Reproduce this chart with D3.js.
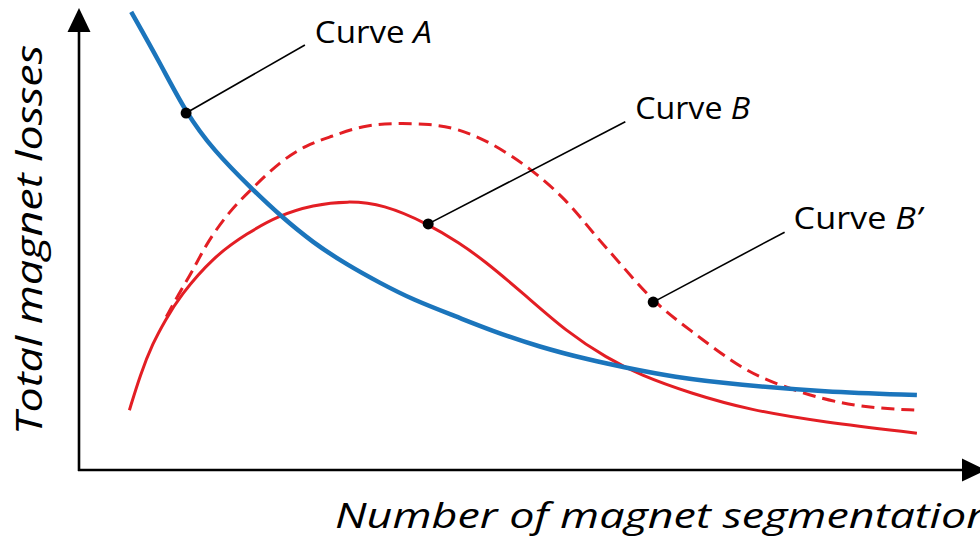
<!DOCTYPE html>
<html><head><meta charset="utf-8">
<script src="https://cdn.jsdelivr.net/npm/d3@7"></script>
<style>html,body{margin:0;padding:0;background:#fff;}svg{display:block;}</style>
</head><body>
<script>
// Data (normalized units: x 0..100 along axis, y 0..100 up the axis)
const curveAX = [5.8, 9.0, 11.9, 14.9, 19.3, 22.3, 26.0, 29.8, 33.4, 37.1, 42.0, 45.7, 51.2, 56.8, 60.4, 66.0, 73.4, 82.7, 93.1];
const curveAY = [99.6, 88.5, 77.6, 69.6, 60.9, 55.4, 49.4, 44.6, 40.7, 37.0, 33.3, 30.4, 26.7, 23.9, 22.4, 20.2, 18.5, 17.0, 16.3];

const curveBX = [5.6, 6.8, 8.2, 9.6, 11.2, 14.9, 18.7, 22.3, 26.0, 29.8, 33.8, 38.8, 42.3, 44.9, 49.3, 54.2, 58.7, 62.3, 67.9, 74.6, 82.7, 93.1];
const curveBY = [13.0, 20.7, 27.6, 32.6, 37.8, 46.3, 51.5, 55.4, 57.6, 58.5, 57.8, 53.5, 49.3, 45.7, 38.5, 30.0, 24.3, 20.7, 16.7, 13.0, 10.4, 8.0];

const curveBpX = [9.7, 11.2, 12.7, 14.2, 16.8, 19.3, 22.3, 25.3, 27.9, 31.6, 35.3, 39.0, 42.0, 45.7, 50.1, 54.2, 57.1, 60.2, 63.8, 67.9, 72.7, 76.1, 82.7, 87.9, 93.1];
const curveBpY = [33.3, 38.7, 43.5, 49.4, 56.5, 61.3, 67.0, 70.7, 72.4, 75.0, 75.4, 75.2, 74.3, 71.3, 65.7, 58.7, 51.5, 44.8, 36.5, 30.4, 23.3, 19.6, 15.2, 13.5, 13.0];

// annotations: label, dot (on curve), leader end, text position
const labelNames = ["Curve ", "Curve ", "Curve "];
const labelItalic = ["A", "B", "B\u2019"];
const dotX = [11.9, 38.8, 63.8];
const dotY = [77.6, 53.5, 36.5];
const leadX = [25.1, 60.7, 78.4];
const leadY = [92.4, 75.7, 51.7];
const textX = [26.2, 61.8, 79.4];
const textY = [92.8, 76.3, 52.4];

const xTitle = "Number of magnet segmentation";
const yTitle = "Total magnet losses";

const W = 980, H = 544;
const x = d3.scaleLinear().domain([0, 100]).range([79, 979]);
const y = d3.scaleLinear().domain([0, 100]).range([470, 10]);

const svg = d3.select("body").append("svg").attr("width", W).attr("height", H);

const font = "'Open Sans', 'Noto Sans', sans-serif";

// axes
const x0 = x(0), y0 = y(0);
svg.append("line").attr("x1", x0).attr("y1", y0 + 1).attr("x2", x0).attr("y2", 30)
  .attr("stroke", "#000").attr("stroke-width", 2.6);
svg.append("line").attr("x1", x0 - 1).attr("y1", y0).attr("x2", 964).attr("y2", y0)
  .attr("stroke", "#000").attr("stroke-width", 2.6);
svg.append("path").attr("d", `M${x0},8 L${x0 - 11.5},32 L${x0 + 11.5},32 Z`).attr("fill", "#000");
svg.append("path").attr("d", `M986,${y0} L962,${y0 - 11.5} L962,${y0 + 11.5} Z`).attr("fill", "#000");

const line = d3.line().x(d => x(d[0])).y(d => y(d[1])).curve(d3.curveBasis);

const A = curveAX.map((v, i) => [v, curveAY[i]]);
const B = curveBX.map((v, i) => [v, curveBY[i]]);
const Bp = curveBpX.map((v, i) => [v, curveBpY[i]]);

svg.append("path").attr("d", line(Bp)).attr("fill", "none").attr("stroke", "#e31e24")
  .attr("stroke-width", 3).attr("stroke-dasharray", "13,7");
svg.append("path").attr("d", line(B)).attr("fill", "none").attr("stroke", "#e31e24")
  .attr("stroke-width", 3);
svg.append("path").attr("d", line(A)).attr("fill", "none").attr("stroke", "#1b75bc")
  .attr("stroke-width", 4.5);

// annotations
const labelLen = [117, 115, 128];
labelNames.forEach((n, i) => {
  svg.append("line").attr("x1", x(dotX[i])).attr("y1", y(dotY[i]))
    .attr("x2", x(leadX[i])).attr("y2", y(leadY[i]))
    .attr("stroke", "#000").attr("stroke-width", 1.6);
  svg.append("circle").attr("cx", x(dotX[i])).attr("cy", y(dotY[i])).attr("r", 5.5).attr("fill", "#000");
  const t = svg.append("text").attr("x", x(textX[i])).attr("y", y(textY[i]))
    .attr("font-family", font).attr("font-size", 31).attr("fill", "#000")
    .attr("textLength", labelLen[i]).attr("lengthAdjust", "spacingAndGlyphs");
  t.append("tspan").text(n);
  t.append("tspan").attr("font-style", "italic").text(labelItalic[i]);
});

// axis titles
svg.append("text").attr("x", 335).attr("y", 528)
  .attr("font-family", font).attr("font-style", "italic").attr("font-size", 34)
  .attr("textLength", 657).attr("lengthAdjust", "spacingAndGlyphs")
  .attr("fill", "#000").text(xTitle);
svg.append("text").attr("transform", "translate(42,435) rotate(-90)")
  .attr("font-family", font).attr("font-style", "italic").attr("font-size", 37)
  .attr("textLength", 390).attr("lengthAdjust", "spacingAndGlyphs")
  .attr("fill", "#000").text(yTitle);
</script>
</body></html>
